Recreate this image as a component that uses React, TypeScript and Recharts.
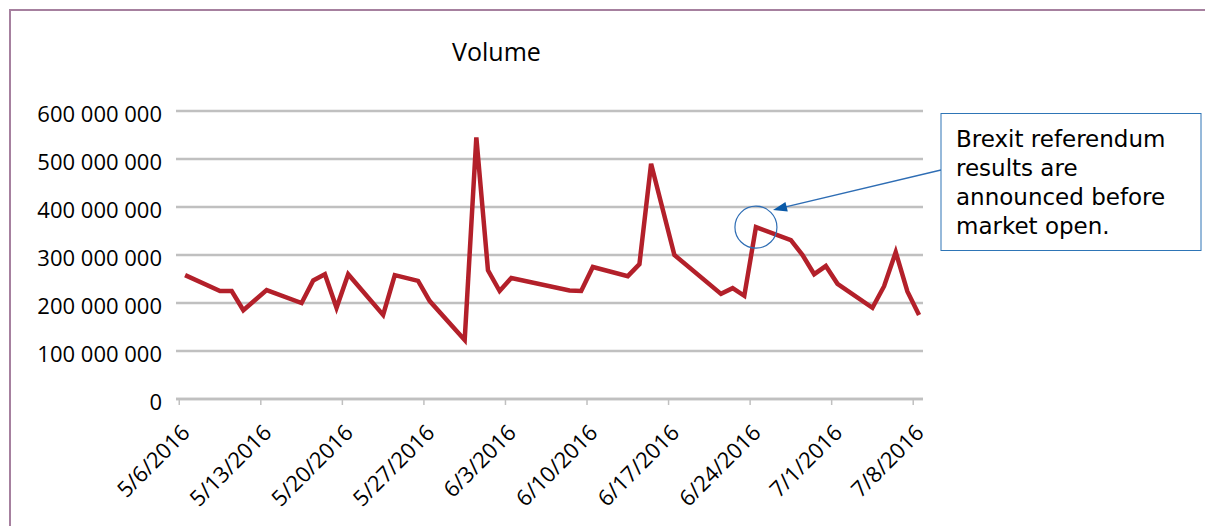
import { LineChart, Line, XAxis, YAxis, CartesianGrid, ReferenceDot } from 'recharts';

// trading days whose volume shows as a vertex in the source chart
const tradingDays = [
  '5/6/2016', '5/9/2016', '5/10/2016', '5/11/2016', '5/13/2016',
  '5/16/2016', '5/17/2016', '5/18/2016', '5/19/2016', '5/20/2016',
  '5/23/2016', '5/24/2016', '5/26/2016', '5/27/2016', '5/30/2016',
  '5/31/2016', '6/1/2016', '6/2/2016', '6/3/2016', '6/8/2016',
  '6/9/2016', '6/10/2016', '6/13/2016', '6/14/2016', '6/15/2016',
  '6/17/2016', '6/21/2016', '6/22/2016', '6/23/2016', '6/24/2016',
  '6/27/2016', '6/28/2016', '6/29/2016', '6/30/2016', '7/1/2016',
  '7/4/2016', '7/5/2016', '7/6/2016', '7/7/2016', '7/8/2016',
];

const volumes = [
  258e6, 225e6, 225e6, 185e6, 227e6,
  200e6, 247e6, 260e6, 190e6, 260e6,
  175e6, 258e6, 246e6, 204e6, 123e6,
  545e6, 268e6, 225e6, 252e6, 226e6,
  225e6, 275e6, 256e6, 281e6, 490e6,
  300e6, 219e6, 231e6, 215e6, 358e6,
  331e6, 300e6, 260e6, 277e6, 240e6,
  190e6, 235e6, 306e6, 224e6, 175e6,
];

const xTickLabels = [
  '5/6/2016', '5/13/2016', '5/20/2016', '5/27/2016', '6/3/2016',
  '6/10/2016', '6/17/2016', '6/24/2016', '7/1/2016', '7/8/2016',
];

const yTicks = [0, 100e6, 200e6, 300e6, 400e6, 500e6, 600e6];

const chartTitle = 'Volume';
const annotatedDay = '6/24/2016';
const annotationLines = ['Brexit referendum', 'results are', 'announced before', 'market open.'];

const FONT = "'Open Sans', sans-serif";
const GRID = '#c0c0c0';
const LINE_RED = '#b3202a';
const NOTE_BLUE = '#2e6db4';
const PLOT_LEFT = 176;
const AXIS_Y = 399;

const START = Date.UTC(2016, 4, 6);
function dayIndex(label: string) {
  const [m, d, y] = label.split('/').map(Number);
  return Math.round((Date.UTC(y, m - 1, d) - START) / 86400000);
}

// Excel's date axis puts each day's value midway between tick marks
const chartData = tradingDays.map((date, i) => ({ x: dayIndex(date) + 0.5, volume: volumes[i] }));
const xTicks = xTickLabels.map(dayIndex);
const noteIdx = tradingDays.indexOf(annotatedDay);

function formatVolume(v: number) {
  return String(Math.round(v)).replace(/\B(?=(\d{3})+(?!\d))/g, ' ');
}

function DateTick({ x, payload }: any) {
  const label = xTickLabels[xTicks.indexOf(payload.value)] ?? '';
  const ax = x + 12;
  const ay = AXIS_Y + 35;
  return (
    <text
      x={ax}
      y={ay}
      transform={`rotate(-45, ${ax}, ${ay})`}
      textAnchor="end"
      fontFamily={FONT}
      fontSize={22}
      fill="#000"
    >
      {label}
    </text>
  );
}

function VolumeTick({ y, payload }: any) {
  return (
    <text
      x={PLOT_LEFT - 14}
      y={y + 2}
      textAnchor="end"
      dominantBaseline="central"
      fontFamily={FONT}
      fontSize={22}
      fill="#000"
    >
      {formatVolume(payload.value)}
    </text>
  );
}

function arrowHead(fromX: number, fromY: number, tipX: number, tipY: number, len: number, half: number) {
  const dx = tipX - fromX;
  const dy = tipY - fromY;
  const n = Math.hypot(dx, dy);
  const ux = dx / n;
  const uy = dy / n;
  const bx = tipX - ux * len;
  const by = tipY - uy * len;
  return `${tipX},${tipY} ${bx - uy * half},${by + ux * half} ${bx + uy * half},${by - ux * half}`;
}

export default function App() {
  const boxX = 941;
  const boxY = 113.5;
  const arrowFrom = { x: boxX, y: 170 };
  const arrowTip = { x: 773, y: 210 };
  const head = arrowHead(arrowFrom.x, arrowFrom.y, arrowTip.x, arrowTip.y, 14, 5);
  const arrowLen = Math.hypot(arrowFrom.x - arrowTip.x, arrowFrom.y - arrowTip.y);

  return (
    <div style={{ position: 'absolute', left: 0, top: 0, width: 1205, height: 526, background: '#fff', overflow: 'hidden' }}>
      <div
        style={{
          position: 'absolute',
          left: 9,
          top: 9,
          right: -5,
          bottom: -5,
          borderTop: '2px solid #a6809f',
          borderLeft: '2px solid #a6809f',
        }}
      />
      <LineChart
        width={1205}
        height={526}
        data={chartData}
        margin={{ top: 111, right: 282, bottom: 7, left: 16 }}
        style={{ position: 'absolute', left: 0, top: 0 }}
      >
        <CartesianGrid
          vertical={false}
          stroke={GRID}
          strokeWidth={2.5}
          horizontal={{ stroke: GRID, strokeWidth: 2.5 }}
        />
        <XAxis
          type="number"
          dataKey="x"
          domain={[-0.28, 63.84]}
          allowDataOverflow
          ticks={xTicks}
          interval={0}
          height={120}
          axisLine={{ stroke: GRID, strokeWidth: 2.5 }}
          tickLine={{ stroke: GRID, strokeWidth: 1.5 }}
          tickSize={6}
          tick={<DateTick />}
        />
        <YAxis
          type="number"
          domain={[0, 600e6]}
          ticks={yTicks}
          interval={0}
          width={160}
          axisLine={false}
          tickLine={false}
          tick={<VolumeTick />}
        />
        <Line
          type="linear"
          dataKey="volume"
          stroke={LINE_RED}
          strokeWidth={4.5}
          dot={false}
          isAnimationActive={false}
        />
        <ReferenceDot
          x={chartData[noteIdx].x}
          y={volumes[noteIdx]}
          r={21}
          fill="none"
          stroke={NOTE_BLUE}
          strokeWidth={1.2}
        />
      </LineChart>
      <div
        style={{
          position: 'absolute',
          left: 0,
          width: 993,
          top: 33,
          textAlign: 'center',
          fontFamily: FONT,
          fontSize: 25,
          color: '#000',
          lineHeight: '36px',
        }}
      >
        {chartTitle}
      </div>
      <svg width={1205} height={526} style={{ position: 'absolute', left: 0, top: 0, pointerEvents: 'none' }}>
        <line
          x1={arrowFrom.x}
          y1={arrowFrom.y}
          x2={arrowTip.x + (12 * (arrowFrom.x - arrowTip.x)) / arrowLen}
          y2={arrowTip.y + (12 * (arrowFrom.y - arrowTip.y)) / arrowLen}
          stroke={NOTE_BLUE}
          strokeWidth={1.3}
        />
        <polygon points={head} fill="#0b5aa8" />
        <rect x={boxX} y={boxY} width={260} height={137} fill="#fff" stroke="#2e75b6" strokeWidth={1} />
        {annotationLines.map((t, i) => (
          <text
            key={t}
            x={956}
            y={147 + i * 29}
            fontFamily="'DejaVu Sans', sans-serif"
            fontSize={23}
            fill="#000"
          >
            {t}
          </text>
        ))}
      </svg>
    </div>
  );
}
